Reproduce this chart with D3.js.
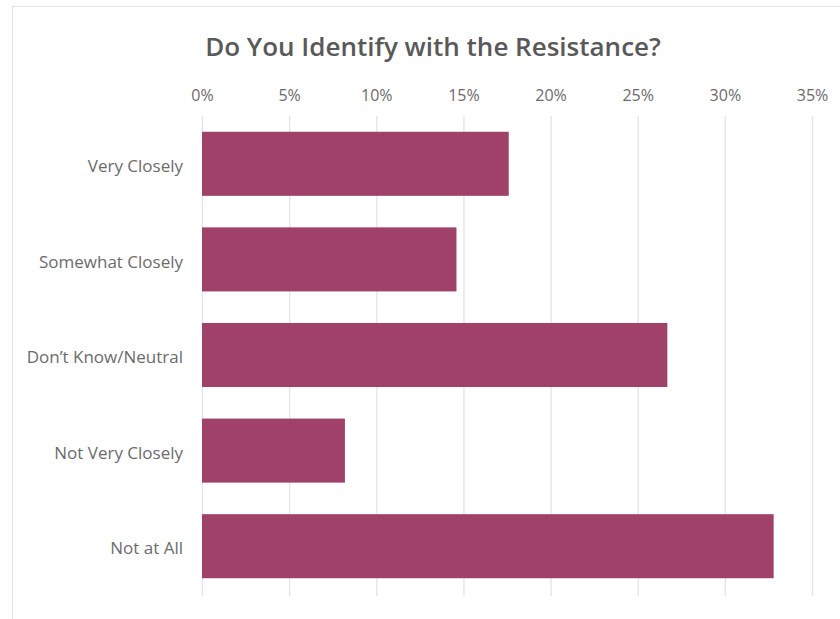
<!DOCTYPE html>
<html>
<head>
<meta charset="utf-8">
<script src="https://cdn.jsdelivr.net/npm/d3@7"></script>
<style>
  html, body { margin: 0; padding: 0; background: #ffffff; }
  svg { display: block; }
</style>
</head>
<body>
<svg id="chart" width="840" height="619"></svg>
<script>
// Survey responses: share of respondents per answer (percent)
const categories = ["Very Closely", "Somewhat Closely", "Don\u2019t Know/Neutral", "Not Very Closely", "Not at All"];
const values = [17.6, 14.6, 26.7, 8.2, 32.8];
const tickValues = [0, 5, 10, 15, 20, 25, 30, 35];
const title = "Do You Identify with the Resistance?";

const svg = d3.select("#chart");
const W = 840, H = 619;
const font = "'Open Sans', 'Noto Sans', sans-serif";

// chart frame
svg.append("rect")
  .attr("x", 12.5).attr("y", 6.5)
  .attr("width", W + 10).attr("height", H + 10)
  .attr("fill", "#ffffff")
  .attr("stroke", "#e2e2e2")
  .attr("stroke-width", 1);

const x = d3.scaleLinear().domain([0, 35]).range([202, 812]);
const y = d3.scaleBand().domain(categories).range([116, 594])
  .paddingInner(0.33).paddingOuter(0.165);

// vertical gridlines
svg.append("g")
  .selectAll("line")
  .data(tickValues)
  .join("line")
  .attr("x1", d => x(d) + 0.5).attr("x2", d => x(d) + 0.5)
  .attr("y1", 116).attr("y2", 596)
  .attr("stroke", "#e4e4e4")
  .attr("stroke-width", 1.3);

// top axis labels
const xAxis = d3.axisTop(x)
  .tickValues(tickValues)
  .tickFormat(d => d + "%")
  .tickSize(0)
  .tickPadding(0);
const gx = svg.append("g").attr("transform", "translate(0,101)").call(xAxis);
gx.select(".domain").remove();
gx.selectAll("text")
  .attr("font-family", font)
  .attr("font-size", 16)
  .attr("fill", "#6b6b6b");

// category labels
const yAxis = d3.axisLeft(y).tickSize(0).tickPadding(0);
const gy = svg.append("g").attr("transform", "translate(183,0)").call(yAxis);
gy.select(".domain").remove();
gy.selectAll("text")
  .attr("font-family", font)
  .attr("font-size", 17)
  .attr("dy", "0.48em")
  .attr("fill", "#6b6b6b");

// bars
svg.append("g")
  .selectAll("rect")
  .data(categories)
  .join("rect")
  .attr("x", x(0))
  .attr("y", d => y(d))
  .attr("width", (d, i) => x(values[i]) - x(0))
  .attr("height", y.bandwidth())
  .attr("fill", "#a0416a");

// title
svg.append("text")
  .attr("x", 433).attr("y", 56)
  .attr("text-anchor", "middle")
  .attr("font-family", font)
  .attr("font-size", 26)
  .attr("font-weight", 600)
  .attr("fill", "#595959")
  .text(title);
</script>
</body>
</html>
